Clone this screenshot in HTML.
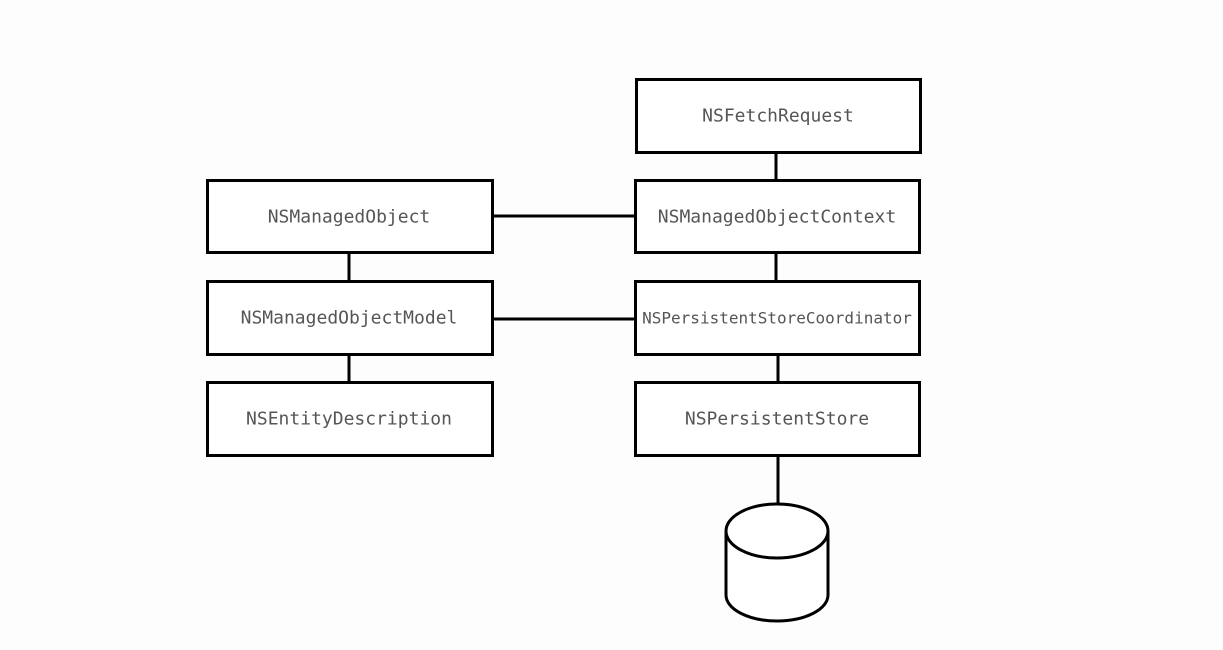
<!DOCTYPE html>
<html><head><style>
body{margin:0;background:#fdfdfd;}
svg text{font-family:"DejaVu Sans Mono","Liberation Mono",monospace;fill:#555;font-size:18px;text-anchor:middle;dominant-baseline:central;}
</style></head><body>
<svg width="1223" height="645" xmlns="http://www.w3.org/2000/svg">
<g stroke="#000" stroke-width="3" fill="#fff">
<line x1="776" y1="152" x2="776" y2="180"/>
<line x1="776" y1="252" x2="776" y2="281"/>
<line x1="778" y1="354" x2="778" y2="382"/>
<line x1="778" y1="455" x2="778" y2="505"/>
<line x1="349" y1="252" x2="349" y2="281"/>
<line x1="349" y1="354" x2="349" y2="382"/>
<line x1="492" y1="216" x2="636" y2="216"/>
<line x1="492" y1="319" x2="636" y2="319"/>
<rect x="636.5" y="79.5" width="284" height="73"/>
<rect x="635.5" y="180.5" width="284" height="72"/>
<rect x="635.5" y="281.5" width="284" height="73"/>
<rect x="635.5" y="382.5" width="284" height="73"/>
<rect x="207.5" y="180.5" width="285" height="72"/>
<rect x="207.5" y="281.5" width="285" height="73"/>
<rect x="207.5" y="382.5" width="285" height="73"/>
<path d="M726 532 L726 595 A51 26 0 0 0 828 595 L828 532"/>
<ellipse cx="777" cy="531" rx="51" ry="27"/>
</g>
<text x="778" y="116">NSFetchRequest</text>
<text x="777" y="217">NSManagedObjectContext</text>
<text x="777" y="318" style="font-size:16px">NSPersistentStoreCoordinator</text>
<text x="777" y="419">NSPersistentStore</text>
<text x="349" y="217">NSManagedObject</text>
<text x="349" y="318">NSManagedObjectModel</text>
<text x="349" y="419">NSEntityDescription</text>
</svg>
</body></html>
